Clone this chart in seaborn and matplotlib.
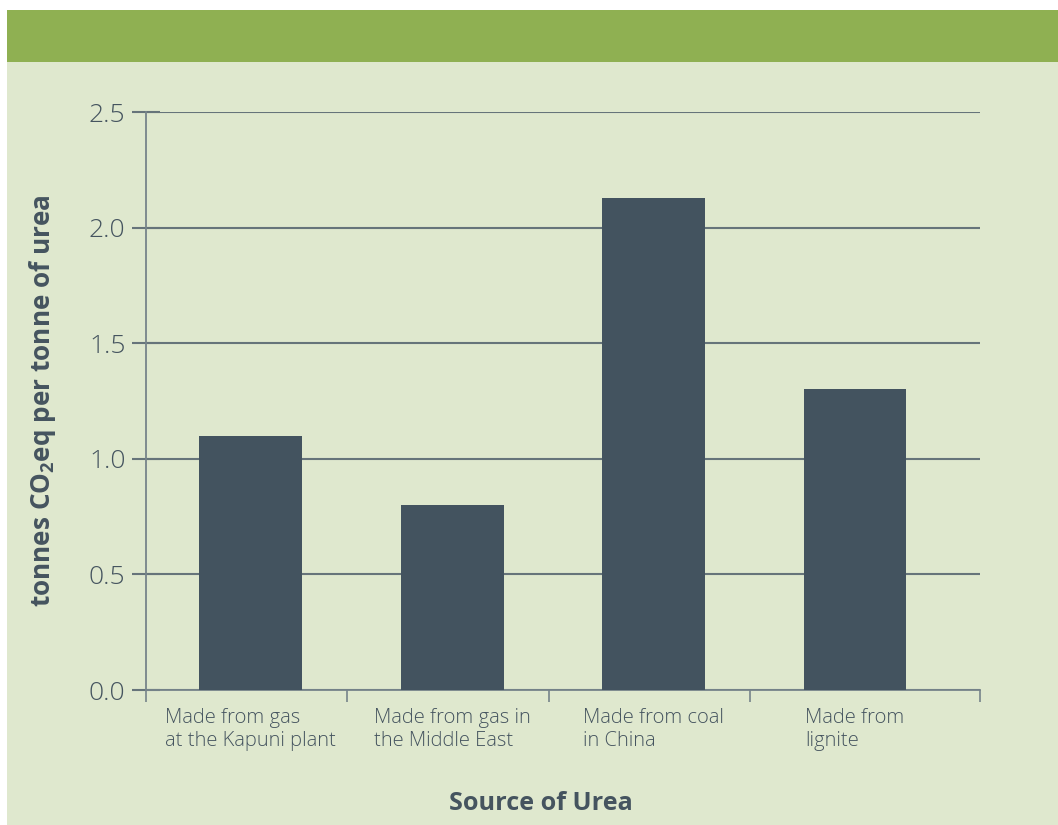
import matplotlib
matplotlib.use("Agg")
import matplotlib.pyplot as plt
from matplotlib.patches import Rectangle
import seaborn as sns
import pandas as pd

categories = ["Made from gas\nat the Kapuni plant",
              "Made from gas in\nthe Middle East",
              "Made from coal\nin China",
              "Made from\nlignite"]
values = [1.10, 0.80, 2.13, 1.30]
yticks = [0.0, 0.5, 1.0, 1.5, 2.0, 2.5]
ytick_labels = ["0.0", "0.5", "1.0", "1.5", "2.0", "2.5"]

BG = "#dfe8ce"
HEADER = "#8fb052"
BAR = "#43535f"
TXT = "#45545f"
GRID = "#66747a"
SPINE = "#76848a"

sns.set_theme(style="white")
plt.rcParams["font.family"] = ["Open Sans", "DejaVu Sans"]
plt.rcParams["mathtext.default"] = "regular"

fig = plt.figure(figsize=(10.58, 8.25), dpi=100, facecolor="white")
W, H = 1058, 825
fig.patches.append(Rectangle((7 / W, 0), 1 - 7 / W, 1 - 10 / H, transform=fig.transFigure,
                             facecolor=BG, edgecolor="none", zorder=-3))
fig.patches.append(Rectangle((7 / W, 1 - 62 / H), 1 - 7 / W, 52 / H, transform=fig.transFigure,
                             facecolor=HEADER, edgecolor="none", zorder=-2))

ax = fig.add_axes([146 / W, 1 - 690 / H, (980 - 146) / W, (690 - 112) / H])
ax.set_facecolor("none")

df = pd.DataFrame({"cat": categories, "val": values})
sns.barplot(data=df, x="cat", y="val", color=BAR, saturation=1, width=0.51, ax=ax,
            zorder=3, linewidth=0, edgecolor="none")

x0, x1 = -0.52, 3.62
ax.set_xlim(x0, x1)
ax.set_ylim(0, 2.5)

ax.set_yticks(yticks)
ax.set_yticklabels(ytick_labels, fontsize=19, color=TXT, fontweight="light")
ax.yaxis.grid(True, color=GRID, linewidth=1.5, zorder=1)
ax.set_axisbelow(True)
ax.tick_params(axis="y", direction="inout", length=19.5, width=1.5, color=GRID, pad=5, left=True)

ax.set_xticks(range(len(categories)))
ax.set_xticklabels(categories, fontsize=14.5, color=TXT, fontweight="light")
for t in ax.get_xticklabels():
    t.set_multialignment("left")
ax.tick_params(axis="x", which="major", length=0, pad=13)
ax.set_xticks([x0] + [i + 0.48 for i in range(len(categories) - 1)] + [x1], minor=True)
ax.tick_params(axis="x", which="minor", direction="out", length=8.5, width=1.2,
               color=SPINE, bottom=True)

for s in ["top", "right"]:
    ax.spines[s].set_visible(False)
for s in ["left", "bottom"]:
    ax.spines[s].set_color(SPINE)
    ax.spines[s].set_linewidth(1.3)

ax.set_xlabel("")
ax.set_ylabel("")
fig.text(541 / W, 1 - 803 / H, "Source of Urea", ha="center", va="center",
         fontsize=18.2, fontweight="bold", color=TXT)
fig.text(43 / W, 1 - 401 / H, "tonnes CO$_2$eq per tonne of urea", ha="center", va="center",
         rotation=90, fontsize=18.8, fontweight="bold", color=TXT)

fig.savefig("out.png", dpi=100, facecolor="white")
